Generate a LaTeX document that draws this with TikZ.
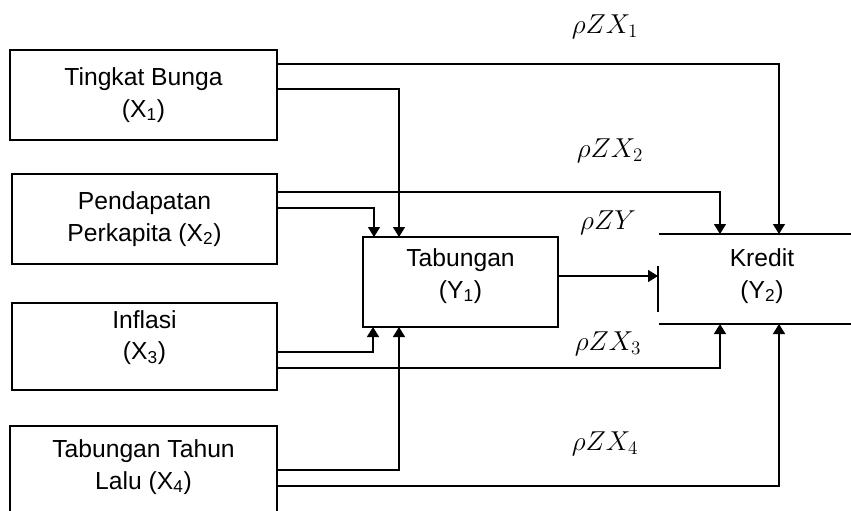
\documentclass[tikz,border=0pt]{standalone}
\usepackage{fix-cm}
\usepackage{fontspec}
\setmainfont{Liberation Sans}
\usetikzlibrary{arrows.meta,calc}
\begin{document}
\begin{tikzpicture}[x=0.75pt,y=-0.75pt,
  every node/.style={font=\fontsize{18.5}{23.5}\selectfont},
  box/.style={draw,line width=1.1pt,inner sep=0pt,outer sep=0pt,align=center},
  lbl/.style={inner sep=0pt,align=center},
  mlbl/.style={inner sep=0pt,font=\fontsize{20.5}{24}\selectfont},
  link/.style={line width=1.1pt},
  arr/.style={link,-{Triangle[length=7.5pt,width=9pt]}}]
\clip (0,0) rectangle (851,511);
\fill[white] (0,0) rectangle (851,511);
% boxes
\node[box,minimum width=200.25pt,minimum height=67.5pt] (X1) at (143.5,95) {Tingkat Bunga\\(X\textsubscript{1})};
\node[box,minimum width=198.75pt,minimum height=67.5pt] (X2) at (144.5,219) {Pendapatan\\Perkapita (X\textsubscript{2})};
\node[box,minimum width=198.75pt,minimum height=65.25pt] (X3) at (144.5,346.5) {Inflasi\\(X\textsubscript{3})\\[-6pt]\mbox{}};
\node[box,minimum width=200.25pt,minimum height=67.5pt] (X4) at (143.5,471) {};
\node[lbl] (X4t) at (143.5,467) {Tabungan Tahun\\Lalu (X\textsubscript{4})};
\node[box,minimum width=146.25pt,minimum height=67.5pt] (Y1) at (460.5,282) {};
\node[lbl] (Y1t) at (460.5,276) {Tabungan\\(Y\textsubscript{1})};
\node[lbl] (Y2) at (762,276) {Kredit\\(Y\textsubscript{2})};
% Kredit frame
\coordinate (KTL) at (659,234);
\coordinate (KTR) at (860,234);
\coordinate (KBL) at (659,324);
\coordinate (KBR) at (860,324);
\draw[link] (KTL) -- (KTR);
\draw[link] (KBL) -- (KBR);
\coordinate (KIn) at (658,276);
\coordinate (BarT) at (658,266);
\coordinate (BarB) at (658,312);
\draw[link] (BarT) -- (BarB);
% targets
\coordinate (T1) at (779,234);
\coordinate (T2) at (720,234);
\coordinate (T3) at (720,324);
\coordinate (T4) at (779,324);
% connectors to Tabungan
\draw[arr] ($(X1.east)+(0,-6)$) -| ($(Y1.north west)+(36,0)$);
\draw[arr] ($(X2.east)+(0,-11)$) -| ($(Y1.north west)+(11,0)$);
\draw[arr] ($(X3.east)+(0,5.5)$) -| ($(Y1.south west)+(10,0)$);
\draw[arr] ($(X4.east)+(0,-1)$) -| ($(Y1.south west)+(36,0)$);
% connectors to Kredit
\draw[arr] ($(X1.east)+(0,-31)$) -| (T1);
\draw[arr] ($(X2.east)+(0,-27)$) -| (T2);
\draw[arr] ($(X3.east)+(0,21.5)$) -| (T3);
\draw[arr] ($(X4.east)+(0,15)$) -| (T4);
\draw[arr] ($(Y1.east)+(0,-6)$) -- (KIn);
% labels
\node[mlbl] (L1) at (605,27) {$\rho Z X_1$};
\node[mlbl] (L2) at (610,151) {$\rho Z X_2$};
\node[mlbl] (L3) at (608,223) {$\rho Z Y$};
\node[mlbl] (L4) at (608,344) {$\rho Z X_3$};
\node[mlbl] (L5) at (605,444) {$\rho Z X_4$};
\end{tikzpicture}
\end{document}
